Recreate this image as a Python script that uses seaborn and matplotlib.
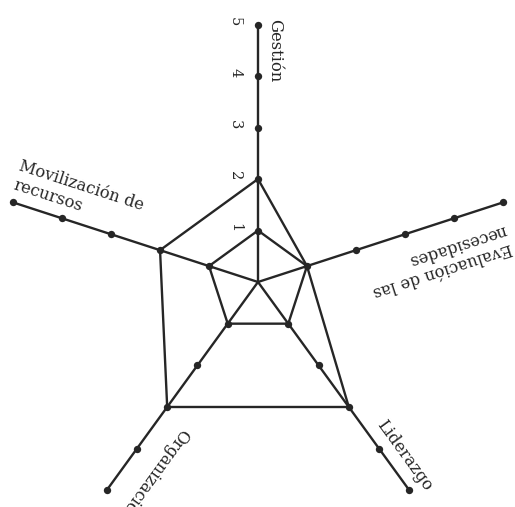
import numpy as np
import pandas as pd
import matplotlib
matplotlib.use("Agg")
import matplotlib.pyplot as plt
import matplotlib.transforms as mtransforms
import seaborn as sns

# ---------------------------
# DATA
# ---------------------------
categories = ["Gestión", "Evaluación de las\nnecesidades", "Liderazgo",
              "Organización", "Movilización de\nrecursos"]
inner_values = [1, 1, 1, 1, 1]
outer_values = [2, 1, 3, 3, 2]
scale_levels = [1, 2, 3, 4, 5]

sns.set_style("white")
plt.rcParams["font.family"] = ["DejaVu Serif"]

ink = "#262626"
n = len(categories)
angles = np.arange(n) * 2 * np.pi / n

# ---------------------------
# FIGURE / POLAR AXES
# ---------------------------
fig = plt.figure(figsize=(5.15, 5.07), dpi=100)
cx, cy = 258, 507 - 282
unit = 51.5
rmax = 5.3
R = unit * rmax
ax = fig.add_axes([(cx - R) / 515, (cy - R) / 507, 2 * R / 515, 2 * R / 507],
                  projection="polar")
ax.set_theta_offset(np.pi / 2)
ax.set_theta_direction(-1)

# spokes
spokes = pd.DataFrame({
    "theta": np.repeat(angles, 2),
    "r": np.tile([0, scale_levels[-1]], n),
    "axis": np.repeat(range(n), 2),
})
sns.lineplot(data=spokes, x="theta", y="r", units="axis", estimator=None,
             sort=False, color=ink, lw=1.7, ax=ax)

# profiles
for vals in (inner_values, outer_values):
    th = np.append(angles, angles[0])
    rr = np.append(vals, vals[0])
    sns.lineplot(x=th, y=rr, sort=False, estimator=None, color=ink, lw=1.7, ax=ax)

# scale dots
ticks = pd.DataFrame({"theta": np.repeat(angles, len(scale_levels)),
                      "r": np.tile(scale_levels, n)})
sns.scatterplot(data=ticks, x="theta", y="r", color=ink, s=28, linewidth=0,
                ax=ax, zorder=3)

ax.set_ylim(0, rmax)
ax.axis("off")


def place(theta, r, dx, dy, text, **kw):
    tr = mtransforms.offset_copy(ax.transData, fig=fig, x=dx, y=dy, units="dots")
    ax.text(theta, r, text, transform=tr, color=ink, clip_on=False, **kw)


# scale numbers along first axis
for lv in scale_levels:
    place(angles[0], lv, -23, 3, str(lv), rotation=-90, ha="center",
          va="center", fontsize=10.5)

# category labels
fs = 11.8
place(angles[0], 4.5, 17, 0, categories[0], rotation=-90, ha="center",
      va="center", fontsize=fs)
place(angles[1], 3.48, 10.8, -34, categories[1], rotation=198, ha="center",
      va="center", multialignment="left", fontsize=fs)
place(angles[2], 4.4, 13.5, 9.8, categories[2], rotation=-54, ha="center",
      va="center", fontsize=fs)
place(angles[3], 3.15, 19, -13.8, categories[3], rotation=234, ha="left",
      va="baseline", rotation_mode="anchor", fontsize=fs)
place(angles[4], 5.1, 2.75, 8.5, categories[4], rotation=-18, ha="left",
      va="bottom", rotation_mode="anchor", multialignment="left", fontsize=fs)

fig.savefig("out.png", dpi=100)
